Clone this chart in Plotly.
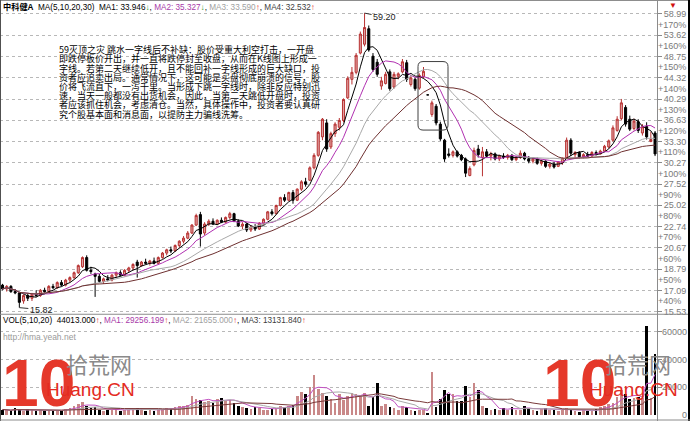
import numpy as np
import pandas as pd
import plotly.graph_objects as go

# ---------------- data ----------------
stock_name = "中科健A"
open_ = [17.5, 17.2, 17.4, 17.0, 16.9, 16.3, 16.7, 16.5, 16.8, 16.7,
         17.1, 17.0, 17.4, 17.3, 17.7, 17.5, 17.9, 18.1, 18.5, 19.0,
         19.8, 18.7, 18.4, 18.2, 17.8, 18.0, 17.9, 18.3, 18.5, 18.3,
         18.7, 18.9, 19.4, 19.1, 19.4, 19.3, 19.5, 19.3, 19.8, 20.2,
         20.5, 20.4, 20.9, 21.3, 21.6, 22.1, 22.9, 24.0, 22.1, 23.0,
         23.3, 23.0, 23.4, 23.2, 23.7, 24.1, 23.3, 22.8, 23.0, 22.4,
         22.7, 22.5, 23.1, 23.5, 24.3, 24.1, 25.0, 25.9, 25.6, 26.5,
         25.6, 26.9, 27.8, 28.0, 29.6, 31.3, 34.0, 36.2, 32.5, 34.5,
         35.5, 36.6, 40.5, 44.0, 45.4, 49.5, 51.5, 55.2, 48.8, 47.5,
         42.7, 43.2, 45.5, 42.5, 44.6, 45.5, 47.4, 43.0, 44.0, 42.3,
         44.5, 41.04, 37.6, 39.0, 36.0, 33.5, 31.5, 31.3, 31.8, 31.3,
         30.8, 28.6, 30.0, 32.2, 31.0, 31.8, 31.2, 31.5, 30.8, 31.2,
         31.0, 31.3, 30.7, 31.0, 31.6, 30.8, 30.5, 30.8, 30.2, 30.5,
         29.8, 30.1, 29.8, 30.3, 31.0, 33.5, 31.4, 31.7, 31.1, 31.4,
         31.2, 31.7, 31.5, 31.9, 32.5, 33.5, 35.0, 36.9, 38.8, 36.8,
         35.3, 36.4, 34.6, 35.6, 33.3, 34.6]
high = [17.6, 17.5, 17.5, 17.2, 17.0, 16.8, 16.9, 16.9, 17.1, 17.2,
        17.3, 17.5, 17.6, 17.8, 17.9, 18.0, 18.2, 18.6, 19.2, 19.9,
        20.0, 19.0, 18.5, 18.4, 18.1, 18.3, 18.4, 18.6, 18.7, 18.8,
        19.0, 19.3, 19.6, 19.5, 19.7, 19.6, 19.8, 19.9, 20.3, 20.6,
        20.8, 21.0, 21.4, 21.8, 22.3, 23.0, 24.1, 24.3, 23.2, 23.5,
        23.6, 23.5, 23.7, 23.8, 24.3, 24.2, 23.5, 23.2, 23.1, 22.9,
        23.0, 23.2, 23.6, 24.4, 24.6, 25.1, 26.0, 26.3, 26.6, 26.8,
        27.0, 28.0, 28.3, 29.8, 31.6, 34.9, 37.0, 36.8, 34.8, 36.3,
        37.0, 40.4, 44.6, 46.5, 49.5, 54.5, 59.2, 56.0, 49.5, 48.2,
        44.5, 45.5, 46.0, 45.5, 45.4, 48.2, 48.0, 44.8, 44.3, 45.2,
        46.5, 41.04, 40.0, 39.4, 36.4, 33.7, 32.3, 32.0, 32.0, 31.5,
        31.0, 29.8, 32.4, 32.8, 32.5, 32.2, 31.8, 31.7, 31.4, 31.6,
        31.5, 31.5, 31.2, 32.0, 31.8, 31.2, 31.0, 31.0, 30.7, 30.6,
        30.3, 30.4, 30.5, 31.0, 33.9, 33.8, 31.9, 31.9, 31.6, 31.8,
        31.9, 32.0, 32.1, 32.8, 33.6, 35.8, 37.3, 40.3, 39.2, 37.4,
        36.9, 36.8, 36.0, 36.3, 34.8, 34.9]
low = [17.1, 17.0, 16.9, 16.8, 15.82, 16.1, 16.3, 16.3, 16.6, 16.6,
       16.9, 16.9, 17.2, 17.2, 17.4, 17.4, 17.7, 18.0, 18.4, 18.9,
       18.6, 18.4, 16.6, 17.7, 17.6, 17.8, 17.8, 18.1, 18.2, 18.2,
       18.5, 18.7, 18.1, 19.0, 19.2, 19.1, 19.2, 19.2, 19.7, 20.0,
       20.2, 20.3, 20.7, 21.1, 21.5, 22.0, 22.8, 20.8, 21.9, 22.8,
       22.9, 22.9, 23.1, 23.1, 23.5, 23.2, 22.7, 22.5, 22.2, 22.2,
       22.3, 22.4, 22.9, 23.4, 23.9, 24.0, 24.9, 25.4, 25.5, 25.2,
       25.5, 26.7, 27.2, 27.9, 29.4, 31.1, 33.5, 31.8, 32.2, 34.0,
       35.0, 36.3, 40.3, 43.0, 45.0, 49.2, 51.0, 49.8, 45.5, 44.5,
       42.0, 43.0, 41.8, 42.2, 44.0, 45.2, 43.5, 42.6, 41.8, 42.0,
       44.2, 41.04, 37.2, 35.8, 33.4, 30.4, 31.0, 31.0, 31.0, 30.5,
       28.4, 28.5, 29.8, 31.0, 28.5, 31.0, 30.6, 30.6, 30.5, 30.8,
       30.7, 30.5, 30.5, 30.8, 30.6, 30.2, 30.2, 30.0, 29.9, 29.6,
       29.5, 29.5, 29.7, 30.0, 30.9, 31.2, 31.0, 30.9, 30.9, 31.0,
       31.1, 31.3, 31.4, 31.8, 32.3, 33.3, 34.8, 36.6, 35.6, 34.9,
       35.0, 34.6, 34.2, 33.6, 33.2, 31.2]
close = [17.2, 17.4, 17.0, 16.9, 16.2, 16.7, 16.5, 16.8, 16.7, 17.1,
         17.0, 17.4, 17.3, 17.7, 17.5, 17.9, 18.1, 18.5, 19.1, 19.8,
         18.7, 18.6, 18.2, 17.8, 18.0, 17.9, 18.3, 18.5, 18.3, 18.7,
         18.9, 19.2, 19.1, 19.4, 19.3, 19.5, 19.3, 19.8, 20.2, 20.5,
         20.4, 20.9, 21.3, 21.6, 22.1, 22.9, 23.9, 22.0, 23.0, 23.3,
         23.0, 23.4, 23.2, 23.7, 24.1, 23.3, 22.8, 23.0, 22.4, 22.7,
         22.5, 23.1, 23.5, 24.3, 24.1, 25.0, 25.9, 25.6, 26.5, 25.6,
         26.9, 27.8, 27.5, 29.6, 31.3, 34.7, 36.8, 32.2, 34.5, 36.0,
         36.6, 40.2, 44.2, 45.4, 49.0, 53.9, 55.5, 50.2, 46.0, 45.0,
         43.7, 45.0, 42.2, 45.0, 45.1, 47.6, 44.0, 44.3, 42.2, 44.8,
         45.6, 41.04, 39.6, 36.2, 33.7, 30.8, 31.3, 31.8, 31.2, 30.7,
         28.9, 29.5, 32.0, 31.4, 31.8, 31.2, 31.5, 30.8, 31.2, 31.0,
         31.3, 30.7, 31.0, 31.6, 30.8, 30.5, 30.8, 30.2, 30.5, 29.8,
         30.1, 29.7, 30.4, 30.9, 33.5, 31.6, 31.7, 31.1, 31.4, 31.2,
         31.7, 31.5, 31.9, 32.6, 33.4, 35.4, 36.8, 39.6, 36.0, 35.2,
         36.5, 35.0, 35.6, 34.0, 33.6, 31.5]
volume = [4000, 3500, 3000, 5000, 3500, 3000, 4500, 3500, 3000, 3500,
          3000, 3500, 2800, 4000, 3200, 4500, 5000, 6500, 8000, 9500,
          7000, 5000, 6000, 4000, 3000, 3500, 4000, 4500, 3000, 3500,
          4000, 4500, 5500, 3500, 3000, 4000, 3000, 4500, 4300, 5000,
          4500, 6000, 6500, 7000, 7500, 14000, 12000, 11000, 9500, 10000,
          9000, 11500, 12500, 10000, 11000, 9000, 7000, 6000, 5500, 4500,
          6000, 5000, 4000, 3500, 4500, 5500, 6500, 6000, 7000, 7500,
          14000, 17000, 15000, 20000, 29000, 19000, 16000, 14000, 12000, 9000,
          15000, 11000, 14000, 16000, 15000, 14000, 16000, 7000, 13000, 23000,
          7000, 8000, 6000, 5000, 3500, 7000, 6000, 4000, 3000, 3500,
          4000, 1500, 31000, 6000, 11500, 18000, 15000, 15000, 10000, 10000,
          21000, 13000, 23000, 18500, 7000, 5000, 4000, 4500, 3500, 5000,
          4000, 6000, 3500, 4000, 7000, 5000, 4000, 3000, 4500, 5000,
          3500, 4000, 3000, 3500, 5000, 4000, 3000, 2500, 3500, 2800,
          3000, 4500, 6000, 7000, 8000, 9000, 13000, 18000, 15000, 12000,
          12269, 13000, 12500, 64000, 12768, 44013]

price_ticks = [15.53, 17.09, 18.79, 20.67, 22.74, 25.02, 27.52, 30.27,
               33.30, 36.63, 40.29, 44.32, 48.75, 53.62, 58.99]
pct_labels = ["+40%", "+50%", "+60%", "+70%", "+80%", "+90%", "+100%",
              "+110%", "+120%", "+130%", "+140%", "+150%", "+160%", "+170%"]
vol_ticks = [0, 20000, 40000, 60000]
ma_periods = [5, 10, 20, 30]
ma_last = [33.946, 35.327, 33.590, 32.532]
vol_periods = [5, 10, 20]
vol_last = [44013.000, 29256.199, 21655.000, 13131.840]

note_lines = [
    "59灭顶之灾 跳水一字线后不补缺：股价受重大利空打击，一开盘",
    "即跌停板价开出，并一直将跌停封至收盘，从而在K线图上形成一",
    "字线。若第二天继续低开，且不能回补一字线形成的巨大缺口，投",
    "资者应追卖出局。通常情况下，这可能是买盘彻底崩溃的信号，股",
    "价将飞流直下，一泻千里。当形成下跳一字线时，除非反应特别迅",
    "速，当天一般都没有出货机会，因此，当第二天跳低开盘时，投资",
    "者应该抓住机会，考虑清仓。当然，具体操作中，投资者要认真研",
    "究个股基本面和消息面，以提防主力骗线洗筹。",
]

# ---------------- layout constants (pixels) ----------------
W, H = 690, 424
PLOT_R = 657
MAIN_TOP, MAIN_BOT = 1, 316
VOL_TOP, VOL_BOT = 318, 421
X0_PX, STEP_PX = 2.5, 4.21
P_LO_PX, P_HI_PX = 314, 14
V0_PX, V60_PX = 418, 334

def fx(px):
    return px / W

def fy(py):
    return 1 - py / H

n = len(close)
idx = list(range(n))
df = pd.DataFrame({"o": open_, "h": high, "l": low, "c": close, "v": volume})
ma_cols = ["#000000", "#b030b0", "#a8a8a8", "#6e3030"]
vma_cols = ["#c050c0", "#a8a8a8", "#7a3a3a"]

lo, hi = np.log10(price_ticks[0]), np.log10(price_ticks[-1])
s = (hi - lo) / (P_LO_PX - P_HI_PX)
y_range = [lo - (MAIN_BOT - P_LO_PX) * s, hi + (P_HI_PX - MAIN_TOP) * s]
mid_vals = [float(np.sqrt(price_ticks[k - 1] * price_ticks[k])) for k in range(1, len(price_ticks))]

vps = 60000 / (V0_PX - V60_PX)
v_range = [-(VOL_BOT - V0_PX) * vps, (V0_PX - VOL_TOP) * vps]

x_r0 = -X0_PX / STEP_PX
x_range = [x_r0, x_r0 + PLOT_R / STEP_PX]

fig = go.Figure()

fig.add_trace(go.Candlestick(
    x=idx, open=df.o, high=df.h, low=df.l, close=df.c,
    increasing=dict(line=dict(color="#b83232", width=1), fillcolor="#dfa2a2"),
    decreasing=dict(line=dict(color="#000000", width=1), fillcolor="#000000"),
    whiskerwidth=0, showlegend=False, hoverinfo="skip", xaxis="x", yaxis="y"))

for p, col in zip(ma_periods, ma_cols):
    fig.add_trace(go.Scatter(x=idx, y=df.c.rolling(p, min_periods=1).mean(), mode="lines",
                             line=dict(color=col, width=1), showlegend=False,
                             hoverinfo="skip", xaxis="x", yaxis="y"))

bar_cols = ["#c98888" if c > o else "#000000" for o, c in zip(open_, close)]
fig.add_trace(go.Bar(x=idx, y=volume, marker=dict(color=bar_cols, line=dict(width=0)),
                     width=0.62, showlegend=False, hoverinfo="skip", xaxis="x2", yaxis="y2"))
for p, col in zip(vol_periods, vma_cols):
    fig.add_trace(go.Scatter(x=idx, y=df.v.rolling(p, min_periods=1).mean(), mode="lines",
                             line=dict(color=col, width=1), showlegend=False,
                             hoverinfo="skip", xaxis="x2", yaxis="y2"))

tickfont = dict(family="Liberation Sans, Arial, sans-serif", size=9, color="#7a7a7a")
grid = dict(showgrid=True, gridcolor="#b8b8b8", gridwidth=1, griddash="dot")

fig.update_layout(
    width=W, height=H, margin=dict(l=0, r=0, t=0, b=0),
    paper_bgcolor="white", plot_bgcolor="white", showlegend=False,
    bargap=0,
    xaxis=dict(domain=[0, fx(PLOT_R)], range=x_range, visible=False,
               rangeslider=dict(visible=False), anchor="y"),
    xaxis2=dict(domain=[0, fx(PLOT_R)], range=x_range, visible=False,
                matches="x", anchor="y2"),
    yaxis=dict(type="log", domain=[fy(MAIN_BOT), fy(MAIN_TOP)], range=y_range,
               side="right", anchor="x", tickvals=price_ticks,
               ticktext=["%.2f" % t for t in price_ticks], ticks="outside", ticklen=4,
               tickcolor="#8a8a8a", tickfont=tickfont, zeroline=False, showline=False, **grid),
    yaxis3=dict(type="log", range=y_range, overlaying="y", side="right", anchor="x",
                tickvals=mid_vals, ticktext=pct_labels, ticks="", showgrid=False,
                zeroline=False, tickfont=tickfont),
    yaxis2=dict(domain=[fy(VOL_BOT), fy(VOL_TOP)], range=v_range, side="right",
                anchor="x2", tickvals=vol_ticks[1:], showticklabels=False, ticks="outside",
                ticklen=4, tickcolor="#8a8a8a", zeroline=False, showline=False, **grid),
    yaxis4=dict(range=v_range, overlaying="y2", side="left", anchor="free",
                position=fx(687), tickvals=vol_ticks, ticktext=[str(v) for v in vol_ticks],
                ticks="", showgrid=False, zeroline=False, tickfont=tickfont),
)
fig.add_trace(go.Scatter(x=[None], y=[None], xaxis="x", yaxis="y3", showlegend=False))
fig.add_trace(go.Scatter(x=[None], y=[None], xaxis="x2", yaxis="y4", showlegend=False))

# ---------------- frame lines ----------------
line_col = "#8c8c8c"
shapes = [
    dict(type="line", xref="paper", yref="paper", x0=0, x1=1, y0=fy(0.5), y1=fy(0.5),
         line=dict(color=line_col, width=1)),
    dict(type="line", xref="paper", yref="paper", x0=fx(0.5), x1=fx(0.5), y0=0, y1=1,
         line=dict(color="#505050", width=1)),
    dict(type="line", xref="paper", yref="paper", x0=0, x1=1, y0=fy(316.5), y1=fy(316.5),
         line=dict(color=line_col, width=1)),
    dict(type="line", xref="paper", yref="paper", x0=fx(PLOT_R + 0.5), x1=fx(PLOT_R + 0.5),
         y0=0, y1=1, line=dict(color=line_col, width=1)),
    dict(type="line", xref="paper", yref="paper", x0=fx(689), x1=fx(689), y0=0, y1=1,
         line=dict(color="#000000", width=2)),
    dict(type="line", xref="paper", yref="paper", x0=0, x1=1, y0=fy(423), y1=fy(423),
         line=dict(color=line_col, width=1)),
]
bx0, bx1, by0, by1, r = 418, 448, 62, 131, 5
path = (f"M {fx(bx0 + r)},{fy(by0)} L {fx(bx1 - r)},{fy(by0)} Q {fx(bx1)},{fy(by0)} {fx(bx1)},{fy(by0 + r)} "
        f"L {fx(bx1)},{fy(by1 - r)} Q {fx(bx1)},{fy(by1)} {fx(bx1 - r)},{fy(by1)} "
        f"L {fx(bx0 + r)},{fy(by1)} Q {fx(bx0)},{fy(by1)} {fx(bx0)},{fy(by1 - r)} "
        f"L {fx(bx0)},{fy(by0 + r)} Q {fx(bx0)},{fy(by0)} {fx(bx0 + r)},{fy(by0)} Z")
shapes.append(dict(type="path", xref="paper", yref="paper", path=path,
                   line=dict(color="#404040", width=1)))
fig.update_layout(shapes=shapes)

# ---------------- texts ----------------
sans = "Liberation Sans, Arial, Noto Sans CJK SC, sans-serif"
cjk = "Noto Sans CJK SC, sans-serif"
green, red = "#1a9a1a", "#e02020"

def span(t, c):
    return f"<span style='color:{c}'>{t}</span>"

arrows_ma = ["↓", "↓", "↑", "↑"]
arr_cols = [green, green, red, red]
ma_txt_cols = ["#000000", "#a838a8", "#a0a0a0", "#404040"]
hdr = f"<b>{stock_name}</b>&nbsp;&nbsp;MA({','.join(str(p) for p in ma_periods)})&nbsp;&nbsp;"
hdr += ", ".join(span(f"MA{k + 1}: {v:.3f}", ma_txt_cols[k]) + span(arrows_ma[k], arr_cols[k])
                 for k, v in enumerate(ma_last))

vol_names = [f"VOL({','.join(str(p) for p in vol_periods)})&nbsp;&nbsp;", "MA1: ", "MA2: ", "MA3: "]
vol_txt_cols = ["#000000", "#a838a8", "#a0a0a0", "#404040"]
vhdr = ", ".join(span(f"{vol_names[k]}{v:.3f}", vol_txt_cols[k]) + span("↑", red)
                 for k, v in enumerate(vol_last))

ann = [
    dict(x=fx(1), y=fy(7), text=hdr, font=dict(family=sans, size=8.2, color="#000")),
    dict(x=fx(1), y=fy(323), text=vhdr, font=dict(family=sans, size=8.2, color="#000")),
    dict(x=fx(1), y=fy(339), text="http://hma.yeah.net", font=dict(family=sans, size=8.5, color="#9a9a9a")),
]
for a in ann:
    a.update(xref="paper", yref="paper", xanchor="left", yanchor="middle", showarrow=False)

for k, t in enumerate(note_lines):
    ann.append(dict(x=fx(57), y=fy(50 + 9.29 * k), xref="paper", yref="paper", text=t,
                    xanchor="left", yanchor="middle", showarrow=False,
                    font=dict(family=cjk, size=9, color="#000000")))

imax = int(np.argmax(high))
imin = int(np.argmin(low))
ann.append(dict(x=imax, y=np.log10(high[imax]), xref="x", yref="y", text="%.2f" % high[imax],
                showarrow=True, arrowhead=0, arrowwidth=1, arrowcolor="#333", ax=20, ay=4,
                font=dict(family=sans, size=9, color="#222")))
ann.append(dict(x=imin, y=np.log10(low[imin]), xref="x", yref="y", text="%.2f" % low[imin],
                showarrow=True, arrowhead=0, arrowwidth=1, arrowcolor="#333", ax=22, ay=2,
                font=dict(family=sans, size=9, color="#222")))

ann.append(dict(x=fx(673), y=fy(5), xref="paper", yref="paper", text="▼", showarrow=False,
                xanchor="center", yanchor="middle", font=dict(size=8, color="#d01010")))

# watermarks
for x10, xcn, xhu in [(0, 99, 90), (541, 638, 633)]:
    ann.append(dict(x=fx(x10), y=fy(386), text="<b>10</b>", xanchor="left",
                    font=dict(family="Liberation Sans, Arial, sans-serif", size=66, color="#e5382a")))
    ann.append(dict(x=fx(xcn), y=fy(366), text="拾荒网", xanchor="center",
                    font=dict(family=cjk, size=22, color="#8a8a8a")))
    ann.append(dict(x=fx(xhu), y=fy(392), text="Huang.CN", xanchor="center",
                    font=dict(family="Liberation Sans, Arial, sans-serif", size=19, color="#e42a22")))
for a in ann[-6:]:
    a.update(xref="paper", yref="paper", yanchor="middle", showarrow=False)

fig.update_layout(annotations=ann)
fig.write_html("out.html", config={"displayModeBar": False},
               post_script="document.body.style.margin='0px';")
